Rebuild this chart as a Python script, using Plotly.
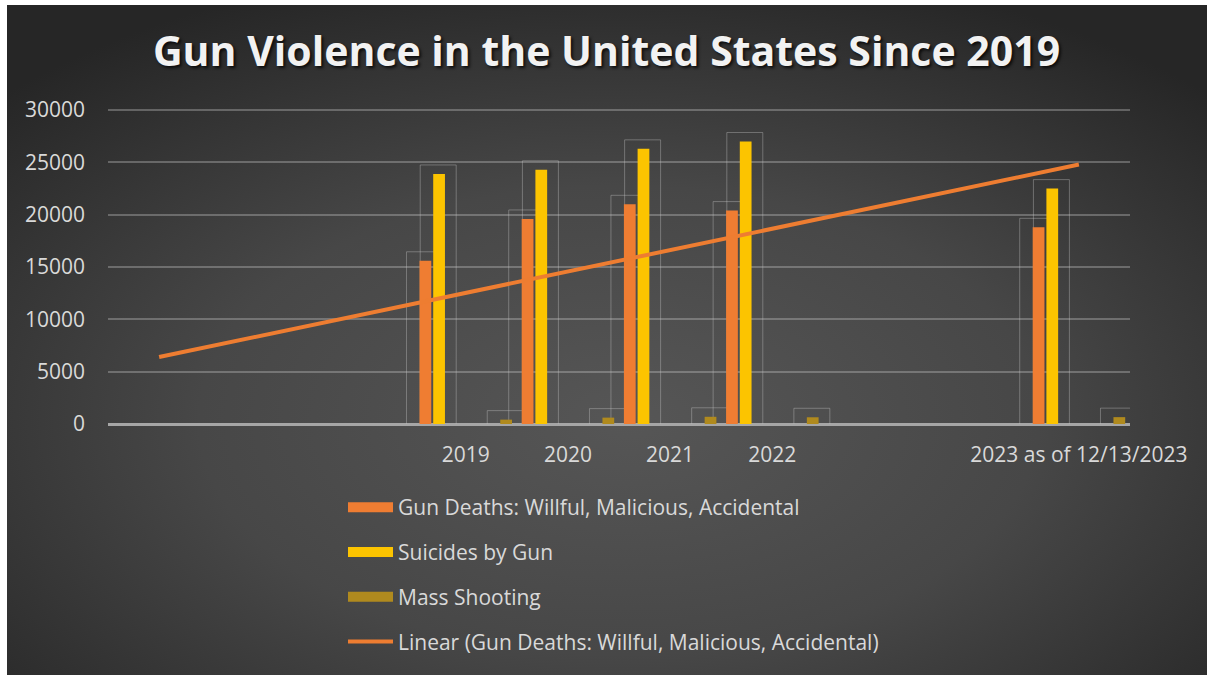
import base64
import plotly.graph_objects as go

# ---------------- data ----------------
positions = [1, 2, 3, 4, 5, 6, 7, 8, 9, 10]
tick_labels = ["", "", "", "2019", "2020", "2021", "2022", "", "", "2023 as of 12/13/2023"]
gun_deaths = [None, None, None, 15600, 19600, 21000, 20400, None, None, 18800]
suicides = [None, None, None, 23900, 24300, 26300, 27000, None, None, 22500]
mass_shootings = [None, None, None, 417, 610, 689, 644, None, None, 656]
trend_x = [1, 10]
trend_y = [6400, 24800]
y_ticks = [0, 5000, 10000, 15000, 20000, 25000, 30000]

# ---------------- style ----------------
W, H = 1207, 675
ML, MR, MT, MB = 108, 77, 107, 251
PW, PH = W - ML - MR, H - MT - MB
FONT = "Open Sans"
TXT = "#d9d9d9"
FS = 21

series = [
    ("Gun Deaths: Willful, Malicious, Accidental", gun_deaths, "#ef7d32", -0.452),
    ("Suicides by Gun", suicides, "#fcc400", -0.318),
    ("Mass Shooting", mass_shootings, "#b08a1e", 0.338),
]
BAR_W = 0.115
PAD_TOP = 860      # outline box extends ~9px above the bar
PAD_BOT = 290      # and ~3px below the baseline

fig = go.Figure()

# faint outline boxes behind each bar
for name, vals, col, off in series:
    fig.add_trace(go.Bar(
        x=positions,
        y=[None if v is None else v + PAD_TOP + PAD_BOT for v in vals],
        base=-PAD_BOT,
        width=0.352, offset=off - 0.127,
        marker=dict(color="rgba(0,0,0,0)", line=dict(color="rgba(200,200,200,0.38)", width=1)),
        showlegend=False, hoverinfo="skip",
    ))

# the bars
for name, vals, col, off in series:
    fig.add_trace(go.Bar(
        x=positions, y=vals, width=BAR_W, offset=off,
        marker=dict(color=col, line=dict(width=0)),
        name=name, showlegend=False,
    ))

# trend line
fig.add_trace(go.Scatter(
    x=trend_x, y=trend_y, mode="lines",
    line=dict(color="#ee7d31", width=4),
    name="Linear (Gun Deaths: Willful, Malicious, Accidental)", showlegend=False,
))

# legend entries (wide rectangular swatches)
for i, (name, vals, col, off) in enumerate(series):
    fig.add_trace(go.Scatter(
        x=[None], y=[None], mode="lines", name=name,
        line=dict(color=col, width=10), legendgroup=f"g{i}",
    ))
fig.add_trace(go.Scatter(
    x=[None], y=[None], mode="lines",
    name="Linear (Gun Deaths: Willful, Malicious, Accidental)",
    line=dict(color="#ee7d31", width=4), legendgroup="g3",
))

# gradient background as an SVG image
svg = '''<svg xmlns="http://www.w3.org/2000/svg" width="1200" height="670" viewBox="0 0 1200 670">
<defs><radialGradient id="g" cx="0.5" cy="0.62" r="0.7" fx="0.52" fy="0.62">
<stop offset="0" stop-color="#565656"/><stop offset="0.5" stop-color="#474747"/><stop offset="1" stop-color="#262626"/>
</radialGradient></defs>
<rect width="1200" height="670" fill="url(#g)"/></svg>'''
src = "data:image/svg+xml;base64," + base64.b64encode(svg.encode()).decode()

def px_to_paper_x(px):
    return (px - ML) / PW

def px_to_paper_y(py):
    return (H - MB - py) / PH

fig.add_layout_image(dict(
    source=src, xref="paper", yref="paper",
    x=px_to_paper_x(7), y=px_to_paper_y(5),
    sizex=(W - 7) / PW, sizey=(H - 5) / PH,
    xanchor="left", yanchor="top", sizing="stretch", layer="below",
))

fig.update_layout(
    width=W, height=H,
    margin=dict(l=ML, r=MR, t=MT, b=MB, autoexpand=False),
    paper_bgcolor="#ffffff",
    plot_bgcolor="rgba(0,0,0,0)",
    barmode="overlay",
    font=dict(family=FONT, color=TXT, size=FS),
    title=dict(
        text="<b>Gun Violence in the United States Since 2019</b>",
        x=0.5025, xanchor="center", y=1 - 52 / H, yanchor="middle", yref="container",
        font=dict(family=FONT, size=41, color="#f2f2f2", shadow="2px 2px 3px rgba(0,0,0,0.75)"),
    ),
    xaxis=dict(
        range=[0.5, 10.5], tickmode="array", tickvals=positions, ticktext=tick_labels,
        showgrid=False, zeroline=False, showline=False, ticks="",
        tickfont=dict(family=FONT, size=FS, color=TXT), ticklabelstandoff=16,
    ),
    yaxis=dict(
        range=[0, 30300], tickmode="array", tickvals=y_ticks,
        ticktext=[str(v) for v in y_ticks],
        showgrid=True, gridcolor="rgba(200,200,200,0.35)", gridwidth=2,
        zeroline=True, zerolinecolor="#a6a6a6", zerolinewidth=3,
        showline=False, ticks="",
        tickfont=dict(family=FONT, size=FS, color=TXT), ticklabelstandoff=22,
    ),
    legend=dict(
        x=px_to_paper_x(343), xanchor="left", y=px_to_paper_y(487), yanchor="top",
        bgcolor="rgba(0,0,0,0)", font=dict(family=FONT, size=FS, color=TXT),
        tracegroupgap=14.5, itemwidth=45, traceorder="grouped",
    ),
    showlegend=True,
)

fig.write_html("out.html")
